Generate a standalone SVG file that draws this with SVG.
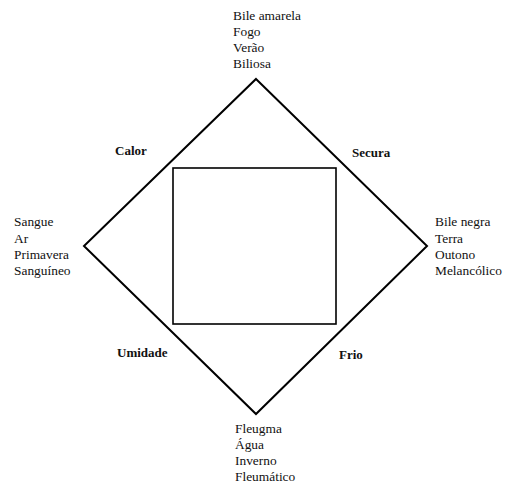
<svg xmlns="http://www.w3.org/2000/svg" width="507" height="486" viewBox="0 0 507 486">
<style>
.t{font-family:"Liberation Serif","Times New Roman",serif;font-size:13.4px;fill:#111}
.b{font-family:"Liberation Serif","Times New Roman",serif;font-size:13px;font-weight:bold;fill:#111}
.ln{fill:none;stroke:#000;stroke-width:2}
</style>
<rect width="507" height="486" fill="#fff"/>
<g id="connectors">
<polygon class="ln" points="256,79 427,246 256,414 84,246"/>
</g>
<g id="square">
<rect x="173" y="168" width="163" height="156" fill="none" stroke="#000" stroke-width="1.6"/>
</g>
<g id="top">
<text class="t" x="233" y="20">Bile amarela</text>
<text class="t" x="233" y="36">Fogo</text>
<text class="t" x="233" y="52">Verão</text>
<text class="t" x="233" y="68">Biliosa</text>
</g>
<g id="left">
<text class="t" x="14" y="226">Sangue</text>
<text class="t" x="14" y="242.5">Ar</text>
<text class="t" x="14" y="259">Primavera</text>
<text class="t" x="14" y="275">Sanguíneo</text>
</g>
<g id="right">
<text class="t" x="435" y="226">Bile negra</text>
<text class="t" x="435" y="242.5">Terra</text>
<text class="t" x="435" y="259">Outono</text>
<text class="t" x="435" y="275">Melancólico</text>
</g>
<g id="bottom">
<text class="t" x="235" y="433">Fleugma</text>
<text class="t" x="235" y="449">Água</text>
<text class="t" x="235" y="465">Inverno</text>
<text class="t" x="235" y="481">Fleumático</text>
</g>
<g id="calor"><text class="b" x="115" y="155">Calor</text></g>
<g id="secura"><text class="b" x="352" y="157">Secura</text></g>
<g id="umidade"><text class="b" x="117" y="357">Umidade</text></g>
<g id="frio"><text class="b" x="339" y="359">Frio</text></g>
</svg>
